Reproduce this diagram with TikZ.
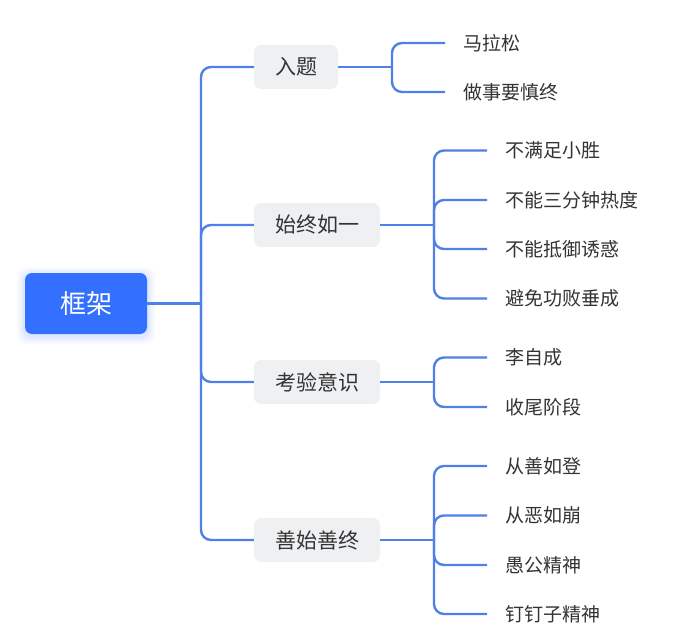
\documentclass[tikz,border=0pt]{standalone}
\usepackage{fontspec}
\setmainfont{Noto Sans CJK SC}
\usetikzlibrary{calc}
\definecolor{linec}{HTML}{4F7FE8}
\definecolor{rootc}{HTML}{3370FF}
\definecolor{boxc}{HTML}{EFF0F2}
\definecolor{txtc}{HTML}{333333}
\tikzset{
  rootbox/.style={fill=rootc, rounded corners=7pt, minimum width=122pt, minimum height=61pt, text=white, font=\fontsize{26}{30}\selectfont, inner sep=0pt},
  topicbox/.style={fill=boxc, rounded corners=7pt, minimum height=44pt, inner xsep=20pt, inner ysep=0pt, text=txtc, font=\fontsize{21}{25}\selectfont},
  leafnode/.style={anchor=west, inner xsep=18pt, inner ysep=0pt, text=txtc, font=\fontsize{19}{23}\selectfont},
  conn/.style={draw=linec, line width=2.4pt, rounded corners=10pt},
}
\begin{document}
\begin{tikzpicture}[x=1pt,y=-1pt]
\useasboundingbox (0,0) rectangle (686,642);
% shadow of root
\foreach \i/\o in {8/0.03,6/0.04,4/0.05,2/0.06}{
  \fill[rootc, opacity=\o, rounded corners=9pt] (25-\i,275-\i) rectangle (147+\i,336+\i);
}
\node[rootbox] (root) at (86,303.5) {框架};

\node[topicbox, minimum width=84pt] (t1) at (296,67) {入题};
\node[topicbox, minimum width=126pt] (t2) at (317,225) {始终如一};
\node[topicbox, minimum width=126pt] (t3) at (317,382) {考验意识};
\node[topicbox, minimum width=126pt] (t4) at (317,540) {善始善终};

\coordinate (j0) at (201,303.5);
\draw[conn] (root.east) -- (j0);
\foreach \t in {t1,t2,t3,t4}{ \draw[conn] (j0) |- (\t.west); }

% leaves of t1
\node[leafnode] (a1) at (445,43) {马拉松};
\node[leafnode] (a2) at (445,92) {做事要慎终};
\coordinate (j1) at (392,67);
\draw[conn] (t1.east) -- (j1);
\foreach \l in {a1,a2}{ \draw[conn] (j1) |- (\l.west); }

% leaves of t2
\node[leafnode] (b1) at (487,150.5) {不满足小胜};
\node[leafnode] (b2) at (487,200) {不能三分钟热度};
\node[leafnode] (b3) at (487,249) {不能抵御诱惑};
\node[leafnode] (b4) at (487,298.5) {避免功败垂成};
\coordinate (j2) at (434,225);
\draw[conn] (t2.east) -- (j2);
\foreach \l in {b1,b2,b3,b4}{ \draw[conn] (j2) |- (\l.west); }

% leaves of t3
\node[leafnode] (c1) at (487,357.5) {李自成};
\node[leafnode] (c2) at (487,407) {收尾阶段};
\coordinate (j3) at (434,382);
\draw[conn] (t3.east) -- (j3);
\foreach \l in {c1,c2}{ \draw[conn] (j3) |- (\l.west); }

% leaves of t4
\node[leafnode] (d1) at (487,466) {从善如登};
\node[leafnode] (d2) at (487,515.5) {从恶如崩};
\node[leafnode] (d3) at (487,565) {愚公精神};
\node[leafnode] (d4) at (487,614) {钉钉子精神};
\coordinate (j4) at (434,540);
\draw[conn] (t4.east) -- (j4);
\foreach \l in {d1,d2,d3,d4}{ \draw[conn] (j4) |- (\l.west); }
\end{tikzpicture}
\end{document}
